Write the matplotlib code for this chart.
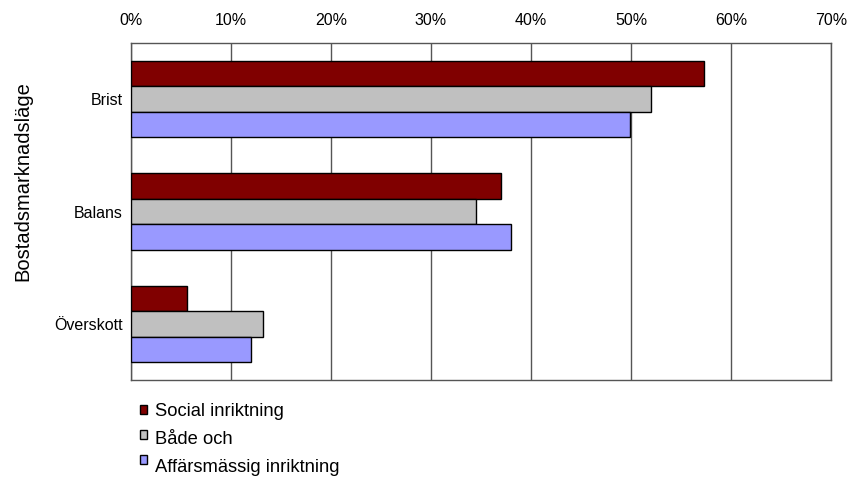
import matplotlib.pyplot as plt
from matplotlib.patches import Rectangle
from matplotlib.ticker import PercentFormatter
import numpy as np

plt.rcParams['font.family'] = ['Liberation Sans', 'DejaVu Sans']

categories = ['Brist', 'Balans', 'Överskott']
series_names = ['Social inriktning', 'Både och', 'Affärsmässig inriktning']
social = [57.3, 37.0, 5.6]
bade = [52.0, 34.5, 13.2]
affars = [49.9, 38.0, 12.0]
colors = ['#800000', '#C0C0C0', '#9999FF']

W, H = 854, 478
fig = plt.figure(figsize=(W/100, H/100), dpi=100)
ax = fig.add_axes([131/W, 1-380/H, 700/W, 337/H])

y = np.arange(len(categories))
h = 0.226
for i, (vals, c, name) in enumerate(zip([social, bade, affars], colors, series_names)):
    ax.barh(y + (i - 1) * h, vals, height=h, color=c, edgecolor='black',
            linewidth=1, label=name, zorder=3)

ax.set_xlim(0, 70)
ax.set_ylim(2.5, -0.5)
ax.set_xticks(np.arange(0, 71, 10))
ax.xaxis.set_major_formatter(PercentFormatter(decimals=0))
ax.xaxis.tick_top()
ax.tick_params(axis='x', length=0, pad=11, labelsize=11.5)
ax.tick_params(axis='y', length=0, pad=6, labelsize=11.5)
ax.set_yticks(y)
ax.set_yticklabels(categories)
ax.grid(axis='x', color='#555555', linewidth=1, zorder=0)
for s in ax.spines.values():
    s.set_color('#555555')
    s.set_linewidth(1)

fig.text(23/W, 1-181/H, 'Bostadsmarknadsläge', rotation=90,
         ha='center', va='center', fontsize=14.5)

# legend drawn by hand: squares sit a bit higher than their labels
sq_y = [409.5, 434, 459]
txt_y = [411, 439, 467]
for c, name, sy, ty in zip(colors, series_names, sq_y, txt_y):
    fig.patches.append(Rectangle((140/W, 1-(sy+4.5)/H), 7.5/W, 9/H,
                                 facecolor=c, edgecolor='black', linewidth=1,
                                 transform=fig.transFigure, figure=fig))
    fig.text(155/W, 1-ty/H, name, ha='left', va='center', fontsize=13.2)

fig.savefig('out.png', dpi=100)
